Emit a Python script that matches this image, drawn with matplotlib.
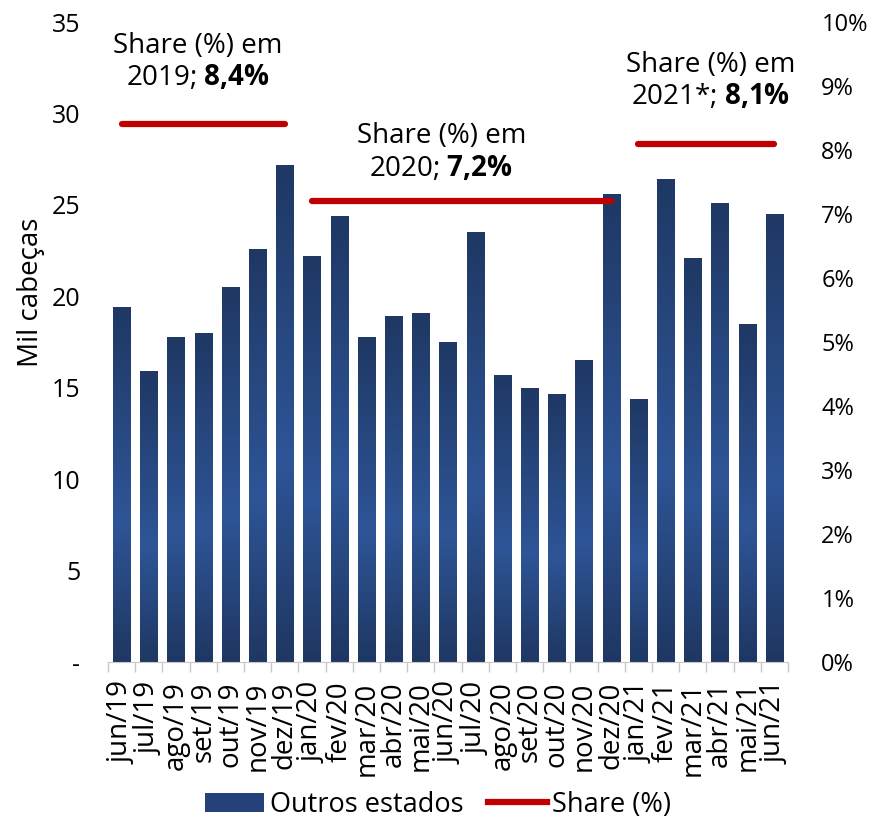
import matplotlib
matplotlib.use("Agg")
import matplotlib.pyplot as plt
import numpy as np
from matplotlib.colors import LinearSegmentedColormap
from matplotlib.lines import Line2D
from matplotlib.patches import Patch

plt.rcParams['font.family'] = ['Open Sans', 'DejaVu Sans']
plt.rcParams['mathtext.fontset'] = 'custom'
plt.rcParams['mathtext.rm'] = 'Open Sans'
plt.rcParams['mathtext.bf'] = 'Open Sans:bold'

# ---- data ----
months = ["jun/19", "jul/19", "ago/19", "set/19", "out/19", "nov/19", "dez/19",
          "jan/20", "fev/20", "mar/20", "abr/20", "mai/20", "jun/20", "jul/20",
          "ago/20", "set/20", "out/20", "nov/20", "dez/20",
          "jan/21", "fev/21", "mar/21", "abr/21", "mai/21", "jun/21"]
outros_estados = [19.4, 15.9, 17.8, 18.0, 20.5, 22.6, 27.2,
                  22.2, 24.4, 17.8, 18.9, 19.1, 17.5, 23.5,
                  15.7, 15.0, 14.65, 16.5, 25.6,
                  14.4, 26.4, 22.1, 25.1, 18.5, 24.5]
share_years = ["2019", "2020", "2021*"]
share_values = [8.4, 7.2, 8.1]          # %
share_start = ["jun/19", "jan/20", "jan/21"]
share_end = ["dez/19", "dez/20", "jun/21"]
share_labels = ["8,4%", "7,2%", "8,1%"]

left_ticks = [0, 5, 10, 15, 20, 25, 30, 35]
left_ticklabels = ["-", "5", "10", "15", "20", "25", "30", "35"]
right_ticks = list(range(0, 11))

# annotation placement (x in category units, y in share %)
label_pos = [(2.8, 9.37), (11.75, 7.96), (21.65, 9.08)]

# ---- figure ----
W, H = 876, 821
fig = plt.figure(figsize=(W / 100, H / 100), dpi=100)
ax = fig.add_axes([108 / W, 1 - 662 / H, 680 / W, 640 / H])
ax2 = ax.twinx()

x = np.arange(len(months))
bars = ax.bar(x, outros_estados, width=0.63, color="#24417a", zorder=2)

# vertical gradient inside each bar
cmap = LinearSegmentedColormap.from_list(
    "g", [(0.0, "#1f3864"), (0.6, "#2e5597"), (1.0, "#1f3762")])
grad = np.linspace(0, 1, 256).reshape(-1, 1)
for b in bars:
    bx, by = b.get_x(), b.get_y()
    bw, bh = b.get_width(), b.get_height()
    b.set_facecolor("none")
    im = ax.imshow(grad, cmap=cmap, aspect="auto",
                   extent=[bx, bx + bw, by, by + bh], origin="upper",
                   zorder=2, interpolation="bilinear")
    im.set_clip_path(b)

ax.set_xlim(-0.5, len(months) - 0.5)
ax.set_ylim(0, 35)
ax.set_yticks(left_ticks)
ax.set_yticklabels(left_ticklabels)
ax.set_xticks(x)
ax.set_xticklabels(months, rotation=90)
ax.tick_params(axis="y", length=0, labelsize=18, pad=20)
ax.tick_params(axis="x", length=0, labelsize=20, pad=14)
# excel style minor ticks between categories
ax.set_xticks(np.arange(-0.5, len(months), 1), minor=True)
ax.tick_params(axis="x", which="minor", length=7, color="#c8c8c8", width=1)
for s in ["top", "right", "left"]:
    ax.spines[s].set_visible(False)
ax.spines["bottom"].set_color("#c8c8c8")
ax.set_ylabel("Mil cabeças", fontsize=20)
ax.yaxis.set_label_coords(-0.093, 0.578)

# share lines on secondary axis
ax2.set_ylim(0, 10)
ax2.set_yticks(right_ticks)
ax2.set_yticklabels([f"{t}%" for t in right_ticks])
ax2.tick_params(axis="y", length=0, labelsize=17, pad=24)
for s in ["top", "right", "left", "bottom"]:
    ax2.spines[s].set_visible(False)

idx = {m: i for i, m in enumerate(months)}
for yr, v, s0, s1, lab, (tx, ty) in zip(share_years, share_values, share_start,
                                         share_end, share_labels, label_pos):
    i0, i1 = idx[s0], idx[s1]
    ax2.plot([i0, i1], [v, v], color="#c00000", lw=4.5, solid_capstyle="round", zorder=3)
    num = lab.replace(",", "{,}").replace("%", r"\%")
    ax2.text(tx, ty, "Share (%) em\n" + yr + "; " + r"$\mathbf{" + num + "}$",
             ha="center", va="center", fontsize=20, linespacing=1.15)

handles = [Patch(facecolor="#24417a", edgecolor="none"),
           Line2D([0], [0], color="#c00000", lw=4.5)]
fig.legend(handles, ["Outros estados", "Share (%)"], loc="center",
           bbox_to_anchor=(0.5, 1 - 805 / H), ncol=2, frameon=False, fontsize=19.5,
           handlelength=2.2, handleheight=0.75, handletextpad=0.2, columnspacing=0.9)

fig.savefig("out.png", dpi=100)
